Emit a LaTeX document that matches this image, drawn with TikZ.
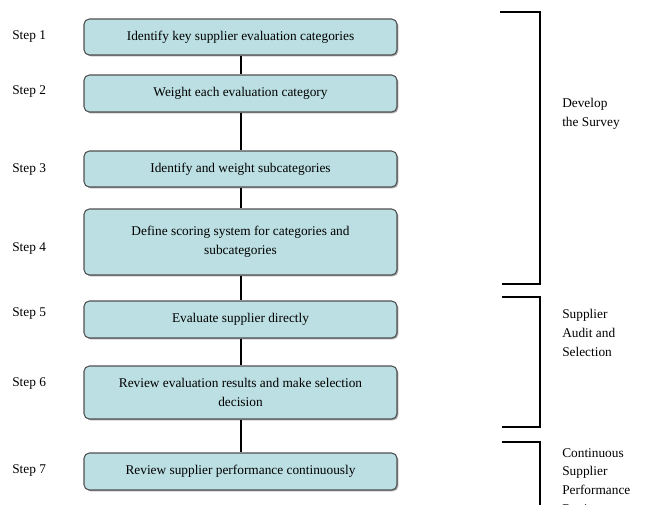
\documentclass[tikz,border=0pt]{standalone}
\usepackage{fontspec}
\setmainfont{Liberation Serif}
\usetikzlibrary{shadows}
\definecolor{boxfill}{HTML}{BBDFE2}
\definecolor{boxline}{HTML}{505050}

\begin{document}
\begin{tikzpicture}[
  x=0.75pt,y=-0.75pt,
  stepbox/.style={draw=boxline,fill=boxfill,rounded corners=4pt,line width=0.8pt,
    minimum width=234.75pt,align=center,inner sep=2pt,
    font=\fontsize{10}{14}\selectfont,
    drop shadow={shadow xshift=1pt,shadow yshift=-1pt,fill=black!35,opacity=1}},
  steplabel/.style={anchor=west,inner sep=0pt,font=\fontsize{10}{12}\selectfont},
  phase/.style={anchor=west,align=left,inner sep=0pt,font=\fontsize{10}{14}\selectfont},
  link/.style={line width=1.5pt},
  brace/.style={line width=1.1pt}
]
  \useasboundingbox (0,0) rectangle (646,504);
  \clip (0,0) rectangle (646,504);

  % the seven steps
  \node[stepbox,minimum height=27pt] (s1) at (240.5,37) {Identify key supplier evaluation categories};
  \node[stepbox,minimum height=27.75pt] (s2) at (240.5,93.5) {Weight each evaluation category};
  \node[stepbox,minimum height=27pt] (s3) at (240.5,169) {Identify and weight subcategories};
  \node[stepbox,minimum height=49.5pt] (s4) at (240.5,242) {Define scoring system for categories and\\subcategories};
  \node[stepbox,minimum height=27.75pt] (s5) at (240.5,319.5) {Evaluate supplier directly};
  \node[stepbox,minimum height=39.75pt] (s6) at (240.5,392.5) {Review evaluation results and make selection\\decision};
  \node[stepbox,minimum height=27.75pt] (s7) at (240.5,471.5) {Review supplier performance continuously};

  \foreach \a/\b in {s1/s2,s2/s3,s3/s4,s4/s5,s5/s6,s6/s7}
    \draw[link] (\a) -- (\b);

  % step numbers
  \node[steplabel] (l1) at (12,37) {Step 1};
  \node[steplabel] (l2) at (12,92) {Step 2};
  \node[steplabel] (l3) at (12,170) {Step 3};
  \node[steplabel] (l4) at (12,248) {Step 4};
  \node[steplabel] (l5) at (12,313) {Step 5};
  \node[steplabel] (l6) at (12,383) {Step 6};
  \node[steplabel] (l7) at (12,470) {Step 7};

  % phases
  \draw[brace] (500,12) -- (540,12) -- (540,284) -- (502,284);
  \draw[brace] (502,297) -- (540,297) -- (540,427) -- (502,427);
  \draw[brace] (502,442) -- (540,442) -- (540,515);

  \node[phase] (p1) at (562,114) {Develop\\the Survey};
  \node[phase] (p2) at (562,333) {Supplier\\Audit and\\Selection};
  \node[phase,anchor=north west] (p3) at (562,448) {Continuous\\Supplier\\Performance\\Review};
\end{tikzpicture}
\end{document}
